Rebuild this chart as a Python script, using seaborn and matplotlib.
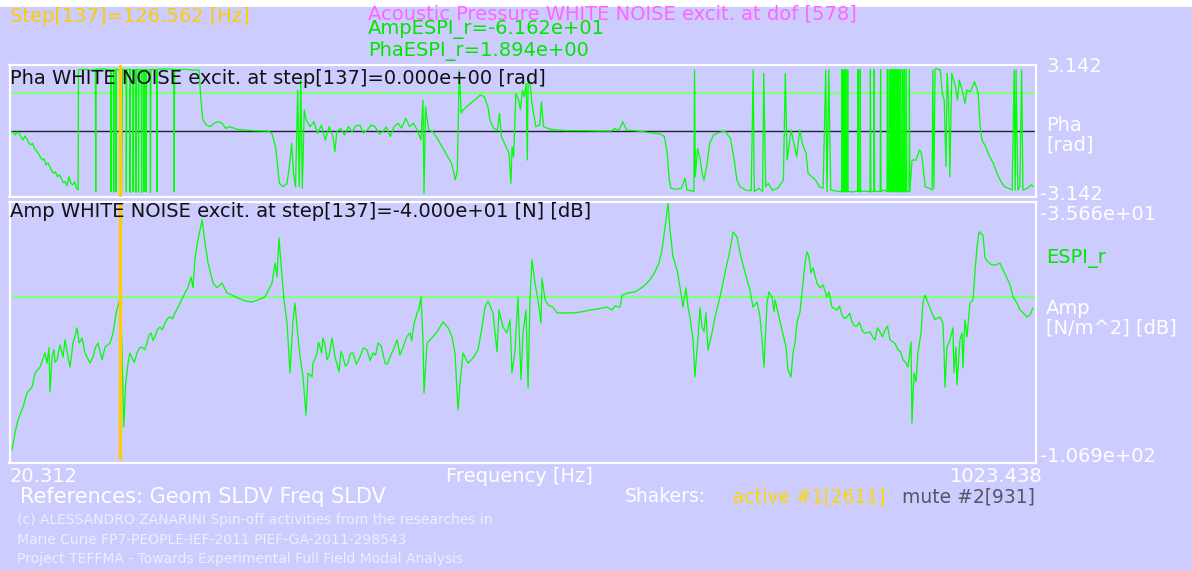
import matplotlib
matplotlib.use("Agg")
import matplotlib.pyplot as plt
from matplotlib.patches import Rectangle
import pandas as pd
import seaborn as sns

# ---------------------------------------------------------------- data
STEP = 137
STEP_FREQ = 126.562          # Hz, cursor position
F_MIN, F_MAX = 20.312, 1023.438
AMP_ESPI = -61.62            # dB at the cursor step
PHA_ESPI = 1.894             # rad at the cursor step
AMP_TOP, AMP_BOTTOM = -35.66, -106.9
PHA_TOP, PHA_BOTTOM = 3.142, -3.142
EXC_PHASE = 0.0
EXC_AMP = -40.0
DOF = 578
ACTIVE_SHAKER = (1, 2611)
MUTE_SHAKER = (2, 931)

# acoustic pressure amplitude [dB], main trace
amp_freq = [
    20.3, 23.2, 26.2, 31.1, 35.0, 39.9, 42.9, 47.8, 52.7, 54.7,
    56.6, 57.6, 59.6, 64.5, 67.5, 70.4, 72.4, 75.3, 77.3, 80.2,
    84.2, 86.1, 89.1, 92.0, 96.9, 99.9, 104.8, 108.7, 111.7, 116.6,
    119.5, 122.5, 126.562, 128.3, 130.0, 132.0, 134.3, 138.2, 143.1, 148.0,
    152.9, 156.9, 160.8, 165.7, 170.6, 175.5, 180.4, 183.4, 188.3, 193.2,
    196.2, 198.1, 200.1, 203.0, 207.0, 209.9, 212.9, 217.8, 221.7, 226.6,
    231.5, 236.4, 242.3, 249.2, 256.1, 262.0, 268.9, 270.8, 275.7, 278.7,
    280.6, 282.6, 285.6, 287.5, 290.5, 293.4, 296.4, 298.3, 300.3, 303.3,
    306.2, 309.1, 311.1, 315.0, 316.0, 319.9, 322.9, 325.8, 329.8, 334.7,
    337.6, 341.6, 345.5, 350.4, 355.3, 362.2, 369.1, 375.0, 379.9, 386.8,
    391.7, 398.6, 404.5, 411.3, 415.3, 418.2, 422.1, 424.1, 425.1, 428.0,
    431.0, 437.9, 443.7, 448.7, 452.6, 455.5, 458.5, 460.5, 463.4, 468.3,
    473.2, 478.1, 482.1, 485.0, 488.0, 492.9, 496.8, 498.8, 502.7, 506.6,
    509.6, 511.5, 514.5, 517.4, 518.4, 520.4, 522.3, 525.3, 527.3, 529.2,
    531.2, 534.1, 537.1, 540.0, 541.0, 544.0, 546.9, 551.8, 555.8, 563.6,
    571.5, 580.3, 588.2, 596.0, 604.9, 609.8, 612.7, 617.7, 619.6, 625.5,
    632.4, 637.3, 642.2, 647.1, 652.0, 655.9, 658.9, 661.9, 664.8, 666.8,
    669.7, 673.7, 676.6, 679.5, 682.5, 684.5, 686.4, 689.4, 691.3, 694.3,
    696.3, 698.2, 700.2, 702.1, 704.1, 708.0, 711.0, 715.9, 720.8, 725.7,
    728.7, 732.6, 735.6, 740.5, 745.4, 748.3, 752.3, 755.2, 757.2, 759.1,
    762.1, 764.0, 767.0, 769.0, 770.0, 772.9, 776.8, 780.8, 782.7, 785.7,
    787.6, 789.6, 791.6, 794.5, 796.5, 799.4, 801.4, 803.3, 805.3, 807.3,
    811.2, 814.2, 817.1, 821.0, 823.0, 825.9, 830.8, 835.8, 840.7, 845.6,
    850.5, 855.4, 860.3, 863.3, 868.2, 873.1, 878.0, 882.9, 885.9, 890.8,
    895.7, 900.6, 903.6, 904.5, 906.5, 908.5, 910.4, 913.4, 915.3, 917.3,
    920.3, 924.2, 927.1, 932.0, 935.0, 936.0, 937.0, 938.9, 941.9, 944.8,
    945.8, 947.8, 948.7, 951.7, 953.7, 954.6, 956.6, 958.6, 961.5, 964.5,
    966.4, 968.4, 970.4, 974.3, 976.3, 979.2, 983.1, 987.1, 991.0, 994.0,
    997.9, 1000.9, 1003.8, 1007.8, 1010.7, 1013.7, 1017.6, 1020.5, 1023.4,
]
amp_db = [
    -103.6, -98.9, -95.3, -91.8, -87.9, -86.3, -82.4, -80.8, -76.9, -79.7,
    -75.5, -87.6, -78.0, -78.8, -74.7, -78.0, -73.3, -78.0, -80.8, -74.2,
    -70.0, -74.2, -72.8, -76.9, -79.7, -78.0, -74.2, -78.8, -75.3, -74.2,
    -71.4, -66.0, -61.62, -76.0, -97.3, -85.2, -79.7, -78.3, -76.9, -75.3,
    -74.2, -71.4, -72.5, -69.8, -68.7, -67.0, -65.9, -64.3, -61.5, -58.8,
    -56.0, -59.0, -50.8, -45.8, -40.3, -46.7, -52.2, -57.7, -59.0, -57.7,
    -60.4, -61.0, -61.8, -62.6, -62.9, -62.3, -61.5, -60.4, -57.7, -52.2,
    -56.0, -45.3, -56.0, -62.3, -68.7, -82.4, -67.8, -63.2, -69.8, -78.0,
    -83.5, -94.0, -82.4, -83.5, -79.7, -76.9, -75.3, -72.8, -78.8, -72.8,
    -78.0, -82.1, -78.0, -79.7, -76.9, -78.0, -76.1, -76.9, -74.2, -79.7,
    -78.0, -73.3, -75.3, -71.4, -68.7, -65.9, -61.5, -73.3, -87.9, -74.2,
    -73.3, -71.1, -68.4, -70.0, -72.5, -76.9, -92.6, -85.2, -76.9, -79.7,
    -78.3, -76.1, -69.8, -64.3, -62.6, -65.9, -76.6, -65.1, -69.8, -71.4,
    -67.8, -82.4, -76.1, -61.5, -69.8, -84.3, -71.4, -65.1, -86.5, -62.3,
    -51.3, -57.7, -62.3, -68.7, -56.3, -62.3, -63.7, -64.3, -65.9, -65.9,
    -65.9, -65.6, -65.1, -64.8, -64.3, -65.1, -64.0, -64.3, -61.0, -60.4,
    -60.1, -59.3, -58.2, -56.8, -54.6, -52.2, -48.6, -42.3, -35.66, -43.1,
    -50.5, -54.1, -58.8, -64.3, -59.0, -64.3, -67.0, -73.3, -83.5, -72.5,
    -64.5, -69.8, -71.1, -65.9, -76.1, -71.4, -67.0, -61.5, -54.9, -48.6,
    -43.6, -45.0, -49.4, -54.9, -59.6, -64.3, -62.9, -67.0, -73.3, -80.8,
    -63.2, -60.1, -61.5, -65.6, -62.3, -65.9, -70.6, -75.3, -81.6, -83.5,
    -76.9, -74.2, -68.4, -65.6, -60.4, -52.2, -49.1, -50.5, -54.9, -53.5,
    -57.7, -59.0, -58.2, -61.5, -60.1, -64.3, -65.1, -66.5, -67.0, -68.4,
    -69.5, -70.6, -71.4, -71.1, -73.3, -71.1, -70.6, -73.3, -73.9, -76.1,
    -78.8, -80.8, -73.9, -96.2, -82.4, -84.9, -76.9, -71.4, -63.2, -61.0,
    -63.2, -65.9, -67.8, -67.0, -68.7, -76.1, -86.3, -75.3, -73.3, -70.0,
    -82.4, -75.3, -85.7, -73.3, -71.4, -81.0, -67.8, -72.5, -63.2, -62.3,
    -54.9, -47.8, -43.6, -44.5, -50.8, -51.9, -52.7, -52.7, -52.2, -54.1,
    -56.3, -58.2, -61.5, -63.2, -65.1, -65.9, -67.0, -66.5, -64.5,
]

# extra ripple points of the amplitude trace in its noisier stretches
amp_ripple_freq = [
    61.5, 62.5, 102.0, 136.0, 140.5, 145.5, 150.5, 154.9, 158.8, 163.0,
    168.0, 173.0, 178.0, 318.0, 321.5, 324.5, 327.8, 332.0, 336.0, 339.5,
    343.5, 347.8, 352.8, 358.5, 365.5, 372.0, 377.5, 383.0, 389.0, 395.0,
    401.5, 408.0, 413.0, 416.8, 420.0, 833.3, 838.3, 843.2, 848.0, 853.0,
    857.9, 865.8, 870.6, 875.5, 880.5, 888.3, 893.2, 898.1,
]
amp_ripple_db = [
    -76.0, -79.5, -75.5, -77.0, -79.5, -75.5, -76.0, -72.0, -73.5, -70.5,
    -70.5, -67.5, -67.5, -78.5, -74.0, -77.0, -74.5, -77.5, -75.0, -80.0,
    -76.5, -80.5, -77.0, -80.0, -75.5, -79.0, -77.5, -75.0, -80.0, -76.0,
    -77.5, -72.5, -73.5, -67.5, -65.0, -64.0, -67.5, -66.0, -69.5, -68.5,
    -71.5, -72.5, -70.0, -72.5, -69.5, -74.5, -76.5, -79.5,
]

# acoustic pressure phase [rad], wrapped to +-pi
pha_freq = [
    20.3, 23.5, 25.4, 27.3, 29.2, 31.1, 33.0, 34.8, 36.7, 38.6,
    40.5, 42.3, 44.2, 46.1, 48.0, 49.9, 51.7, 53.6, 55.5, 57.4,
    59.3, 61.1, 63.0, 64.9, 66.8, 68.7, 70.6, 72.4, 74.3, 76.2,
    78.1, 79.9, 81.8, 83.7, 85.2, 85.6, 92.0, 100.0, 102.2, 102.5,
    102.9, 110.0, 117.2, 117.5, 117.9, 119.9, 120.2, 120.6, 122.1, 122.4,
    122.8, 125.8, 126.562, 127.2, 127.9, 128.8, 132.3, 132.6, 133.0, 136.0,
    136.3, 136.7, 139.0, 139.3, 139.7, 141.7, 142.0, 142.4, 144.3, 144.6,
    145.0, 147.3, 147.6, 148.0, 149.6, 149.9, 150.3, 151.8, 152.1, 152.5,
    156.0, 156.3, 156.7, 162.4, 162.7, 163.1, 170.0, 179.3, 179.6, 180.0,
    190.0, 200.0, 204.0, 205.9, 207.8, 211.5, 215.3, 219.0, 222.8, 226.6,
    230.3, 234.1, 241.6, 249.1, 256.7, 271.7, 275.5, 279.2, 283.0, 286.7,
    290.5, 293.5, 295.0, 296.9, 298.8, 301.0, 302.5, 304.0, 305.5, 307.4,
    309.3, 313.1, 316.8, 320.6, 324.3, 328.1, 331.9, 335.6, 337.5, 339.4,
    343.1, 346.9, 350.7, 354.4, 358.0, 361.9, 365.5, 369.5, 373.0, 377.0,
    381.0, 384.5, 388.0, 392.0, 395.8, 399.5, 403.0, 407.1, 410.8, 414.6,
    418.3, 422.1, 424.0, 425.1, 426.6, 429.6, 433.4, 437.1, 440.9, 444.7,
    448.4, 452.2, 455.9, 457.8, 459.7, 461.6, 463.5, 467.2, 474.7, 480.4,
    484.1, 487.9, 489.8, 493.5, 497.3, 499.2, 501.1, 504.8, 508.6, 510.5,
    511.6, 513.1, 515.4, 518.0, 519.9, 521.7, 523.6, 525.5, 526.6, 527.4,
    529.3, 531.1, 534.9, 538.7, 540.5, 542.4, 549.9, 565.0, 580.0, 598.1,
    609.1, 612.9, 616.0, 618.4, 620.3, 624.0, 635.2, 646.3, 657.5, 661.2,
    664.1, 666.0, 667.9, 672.3, 677.9, 681.6, 683.5, 687.2, 690.2, 690.9,
    691.6, 693.9, 696.5, 698.3, 700.2, 702.8, 705.8, 709.5, 715.1, 720.6,
    726.2, 729.9, 732.5, 735.5, 741.1, 746.6, 748.5, 749.6, 754.1, 757.8,
    758.9, 760.8, 763.4, 767.1, 772.7, 778.2, 780.1, 781.9, 785.7, 789.4,
    791.2, 794.2, 796.8, 800.5, 802.4, 806.1, 809.8, 813.5, 817.2, 819.8,
    821.0, 822.8, 824.7, 830.0, 835.4, 835.8, 836.2, 837.3, 837.7, 838.1,
    839.1, 839.5, 839.9, 841.0, 841.4, 841.8, 846.0, 851.0, 851.4, 851.8,
    853.3, 853.7, 854.1, 858.0, 863.3, 863.7, 864.1, 867.0, 867.4, 867.8,
    870.0, 873.3, 873.7, 874.1, 877.0, 880.0, 880.4, 880.8, 881.9, 882.3,
    882.7, 883.7, 884.1, 884.5, 885.6, 886.0, 886.4, 887.5, 887.9, 888.3,
    889.3, 889.7, 890.1, 891.2, 891.6, 892.0, 893.0, 893.4, 893.8, 894.9,
    895.3, 895.7, 896.7, 897.1, 897.5, 898.6, 899.0, 899.4, 901.6, 902.0,
    902.4, 904.6, 908.3, 912.0, 913.9, 917.6, 921.3, 924.3, 925.0, 926.1,
    927.2, 928.7, 932.4, 934.3, 936.2, 938.0, 939.1, 940.6, 941.7, 943.6,
    947.3, 949.2, 951.0, 954.7, 956.6, 958.5, 962.2, 965.9, 967.7, 969.6,
    971.5, 973.3, 977.0, 980.8, 984.5, 988.2, 991.9, 995.6, 999.3, 1003.0,
    1004.9, 1006.0, 1006.8, 1008.6, 1010.5, 1012.3, 1013.5, 1017.9, 1021.6, 1023.4,
]
pha_rad = [
    -0.03, -0.20, -0.05, -0.12, -0.30, -0.45, -0.25, -0.37, -0.60, -0.70,
    -0.62, -0.87, -1.00, -1.12, -1.30, -1.46, -1.40, -1.71, -1.60, -1.79,
    -2.00, -2.13, -2.05, -2.30, -2.20, -2.38, -2.60, -2.55, -2.75, -2.30,
    -2.63, -2.71, -2.55, -2.88, -2.96, 3.08, 3.10, 3.06, 3.08, -3.05,
    3.10, 3.12, 3.08, -3.06, 3.05, 3.10, -3.07, 3.08, 3.06, -3.05,
    3.12, 3.05, 1.894, 0.55, -3.08, 3.10, 3.08, -3.06, 3.09, 3.10,
    -3.08, 3.07, 3.06, -3.05, 3.10, 3.08, -3.07, 3.09, 3.10, -3.06,
    3.06, 3.08, -3.08, 3.10, 3.07, -3.05, 3.08, 3.10, -3.06, 3.09,
    3.06, -3.08, 3.10, 3.08, -3.05, 3.09, 3.12, 3.10, -3.06, 3.08,
    3.10, 3.06, 3.07, 1.56, 0.55, 0.30, 0.22, 0.40, 0.47, 0.39,
    0.13, 0.22, 0.08, 0.05, 0.02, 0.00, -0.12, -0.79, -2.63, -2.80,
    -2.63, -1.46, -0.62, -2.13, -2.80, 2.06, -2.80, 2.56, -2.88, 1.06,
    0.55, 0.22, 0.47, -0.12, 0.30, -0.45, 0.22, -0.28, -1.04, -0.03,
    0.13, -0.20, 0.22, -0.03, 0.25, 0.30, -0.10, 0.05, 0.30, 0.22,
    -0.15, -0.03, 0.20, -0.28, 0.22, 0.39, 0.15, 0.64, 0.22, 0.39,
    0.05, -0.45, 1.56, -3.13, 1.22, 0.05, -0.03, -0.28, -0.62, -0.96,
    -1.29, -1.63, -2.46, -1.96, 3.07, 0.89, 1.06, 1.22, 1.56, 1.81,
    1.73, 1.22, 0.55, 0.13, 0.05, 0.89, -0.28, -0.70, -1.12, -2.63,
    -0.79, -1.29, 1.89, 1.56, 1.06, 2.06, 1.73, 2.40, -1.46, 2.73,
    2.40, 1.39, 0.22, 0.30, 1.47, 0.22, 0.08, 0.02, 0.02, 0.00,
    0.00, 0.13, 0.02, 0.22, 0.47, 0.05, 0.00, -0.08, -0.15, -0.28,
    -1.12, -2.46, -2.88, -2.93, -2.88, -2.38, -2.97, -3.00, -3.05, 3.07,
    -2.30, -0.87, -1.46, -2.13, -2.46, -1.79, -0.62, -0.20, -0.08, 0.00,
    -0.37, -1.46, -2.46, -2.80, -2.97, -3.00, 3.07, -3.05, -2.88, -3.05,
    2.90, -2.80, -2.63, -2.97, -2.88, -2.46, 2.90, -1.46, 0.05, -0.87,
    -1.29, 0.05, -0.62, -1.12, -2.13, -2.30, -2.46, -2.80, -2.88, 3.07,
    -3.05, 3.07, -2.97, -3.02, -3.06, 3.10, -3.05, -3.04, 3.08, -3.06,
    -3.03, 3.10, -3.05, -3.06, 3.07, -3.04, -3.06, -3.03, 3.09, -3.05,
    -3.06, 3.10, -3.04, -3.02, -3.05, 3.08, -3.06, -3.03, 3.10, -3.05,
    -3.02, -3.06, 3.09, -3.04, -2.97, -3.05, 3.10, -3.04, -3.06, 3.08,
    -2.90, -3.05, 3.10, -3.03, -3.06, 3.09, -3.04, -3.05, 3.10, -3.02,
    -3.06, 3.08, -3.05, -3.04, 3.10, -3.06, -3.03, 3.09, -3.05, -3.06,
    3.10, -3.04, -3.05, 3.08, -3.06, -3.03, 3.10, -3.05, -3.04, 3.08,
    -3.05, -1.46, -1.46, -0.96, -1.12, -2.80, -2.88, -2.97, 3.07, -2.90,
    3.10, 3.12, 3.07, 1.89, 1.56, -1.79, 2.90, 1.40, -2.30, 2.90,
    2.23, 1.56, 2.56, 1.89, 1.39, 2.06, 1.98, 2.48, 2.23, 1.89,
    0.22, -0.45, -0.79, -1.29, -1.63, -2.13, -2.55, -2.80, -2.88, -2.97,
    3.07, -2.97, 3.07, -2.97, -2.80, 3.07, -2.97, -2.88, -2.71, -2.80,
]

amp_df = pd.DataFrame({"freq": amp_freq + amp_ripple_freq,
                       "amp": amp_db + amp_ripple_db})
pha_df = pd.DataFrame({"freq": pha_freq, "pha": pha_rad})

# ---------------------------------------------------------------- style
BG = "#CCCCFF"
CURVE = "#00FF00"
REF_LINE = "#80FF80"
TEXT_GREEN = "#00E600"
CURSOR = "#FFCC00"
GOLD = "#FFD700"
MAGENTA = "#FF66FF"
WHITE = "#FFFFFF"
FONT = "DejaVu Sans"

sns.set_theme(style="white")
plt.rcParams["font.family"] = [FONT]

W, H = 1192, 570
fig = plt.figure(figsize=(W / 100, H / 100), dpi=100)
fig.patch.set_facecolor(BG)
fig.add_artist(Rectangle((0, 1 - 7 / H), 1, 7 / H, transform=fig.transFigure,
                         facecolor="white", edgecolor="none", zorder=0))


def put(x, y, s, color=WHITE, size=14, ha="left", linespacing=1.2):
    """Place a text at pixel position (x, y) measured from the top-left."""
    fig.text(x / W, 1 - y / H, s, color=color, fontsize=size, ha=ha,
             va="center", family=FONT, linespacing=linespacing)


def panel(x0, y0, x1, y1):
    ax = fig.add_axes([x0 / W, 1 - y1 / H, (x1 - x0) / W, (y1 - y0) / H])
    ax.set_facecolor(BG)
    for sp in ax.spines.values():
        sp.set_color("white")
        sp.set_linewidth(1.6)
    return ax


def finish(ax):
    ax.set_xticks([])
    ax.set_yticks([])
    ax.set_xlabel("")
    ax.set_ylabel("")


X_LIM = (17.8, 1025.9)

# ---------------------------------------------------------------- phase panel
ax_p = panel(9.5, 65, 1035.5, 197)
ax_p.axhline(0.0, color="#222233", lw=1.0, zorder=1)
ax_p.axhline(PHA_ESPI, color=REF_LINE, lw=1.6, zorder=1)
sns.lineplot(data=pha_df, x="freq", y="pha", ax=ax_p, color=CURVE, lw=0.9,
             estimator=None, sort=False, zorder=2)
ax_p.axvline(STEP_FREQ, ymin=0.01, ymax=0.99, color=CURSOR, lw=2.4, zorder=3)
ax_p.set_xlim(*X_LIM)
ax_p.set_ylim(-3.318, 3.318)
finish(ax_p)
ax_p.text(0.0, 0.9, f"Pha WHITE NOISE excit. at step[{STEP}]={EXC_PHASE:.3e} [rad]",
          transform=ax_p.transAxes, color="#111111", fontsize=14, va="center",
          family=FONT, zorder=4)

# ---------------------------------------------------------------- amplitude panel
ax_a = panel(9.5, 201.5, 1035.5, 463)
ax_a.axhline(AMP_ESPI, color=REF_LINE, lw=1.6, zorder=1)
sns.lineplot(data=amp_df, x="freq", y="amp", ax=ax_a, color=CURVE, lw=0.9,
             estimator=None, sort=True, zorder=2)
ax_a.axvline(STEP_FREQ, ymin=0.02, ymax=0.987, color=CURSOR, lw=2.4, zorder=3)
ax_a.set_xlim(*X_LIM)
ax_a.set_ylim(-107.18, -35.25)
finish(ax_a)
ax_a.text(0.0, 0.96, f"Amp WHITE NOISE excit. at step[{STEP}]={EXC_AMP:.3e} [N] [dB]",
          transform=ax_a.transAxes, color="#111111", fontsize=14, va="center",
          family=FONT, zorder=4)

# ---------------------------------------------------------------- header
put(10, 16, f"Step[{STEP}]={STEP_FREQ:.3f} [Hz]", color=CURSOR)
put(368, 13.5, f"Acoustic Pressure WHITE NOISE excit. at dof [{DOF}]", color=MAGENTA,
    size=14)
put(368, 40.5, f"AmpESPI_r={AMP_ESPI:.3e}\nPhaESPI_r={PHA_ESPI:.3e}",
    color=TEXT_GREEN, linespacing=1.08)

# ---------------------------------------------------------------- right side scale labels
put(1046, 66, f"{PHA_TOP:.3f}")
put(1046, 135, "Pha\n[rad]", linespacing=1.05)
put(1040, 195, f"{PHA_BOTTOM:.3f}")
put(1040, 214, f"{AMP_TOP:.3e}")
put(1046, 258, "ESPI_r", color=TEXT_GREEN)
put(1046, 318.5, "Amp\n[N/m^2] [dB]", linespacing=1.05)
put(1040, 457, f"{AMP_BOTTOM:.3e}")

# ---------------------------------------------------------------- footer
put(10, 477, f"{F_MIN:.3f}")
put(446, 477, "Frequency [Hz]")
put(1043, 477, f"{F_MAX:.3f}", ha="right")
put(20, 497, "References: Geom SLDV Freq SLDV", size=15)
put(625, 497, "Shakers:", size=13.5)
put(733, 497, f"active #{ACTIVE_SHAKER[0]}[{ACTIVE_SHAKER[1]}]", color=GOLD, size=13.5)
put(902, 497, f"mute #{MUTE_SHAKER[0]}[{MUTE_SHAKER[1]}]", color="#555566", size=13.5)
put(17, 520, "(c) ALESSANDRO ZANARINI Spin-off activities from the researches in",
    color="#EEEEFF", size=10)
put(17, 540, "Marie Curie FP7-PEOPLE-IEF-2011 PIEF-GA-2011-298543",
    color="#EEEEFF", size=10)
put(17, 559, "Project TEFFMA - Towards Experimental Full Field Modal Analysis",
    color="#EEEEFF", size=10)

fig.savefig("out.png", dpi=100, facecolor=fig.get_facecolor())
